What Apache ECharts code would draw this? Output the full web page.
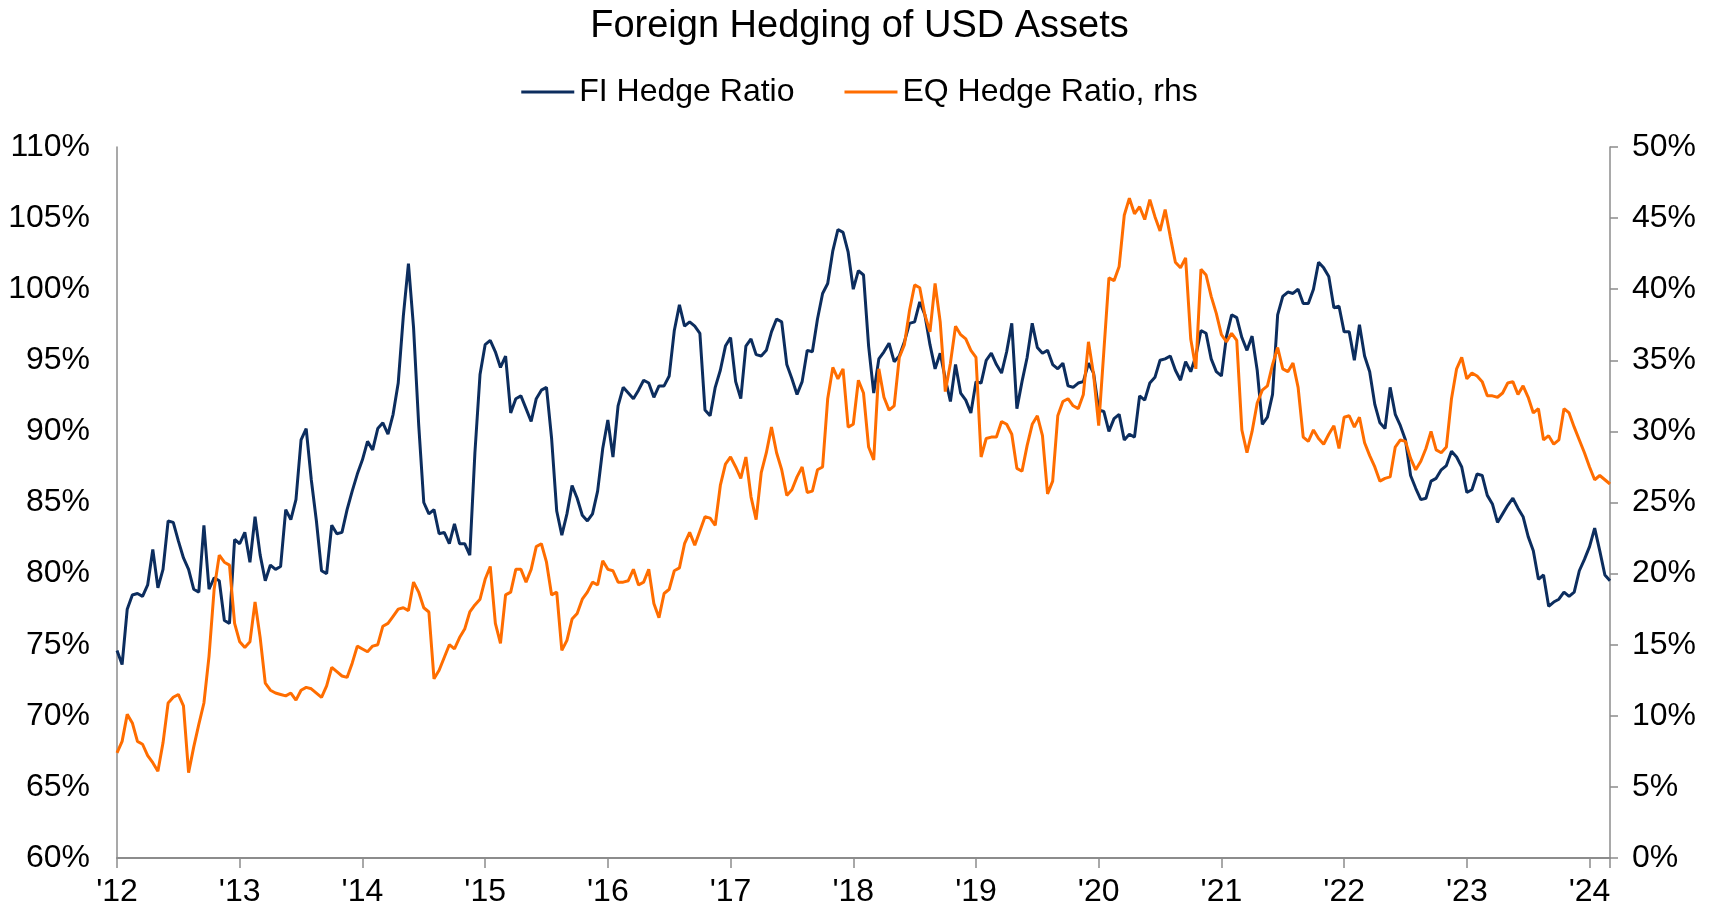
<!DOCTYPE html>
<html>
<head>
<meta charset="utf-8">
<title>Foreign Hedging of USD Assets</title>
<script src="https://cdn.jsdelivr.net/npm/echarts@6/dist/echarts.min.js"></script>
<style>
  html, body { margin: 0; padding: 0; background: #fff; }
  #chart { width: 1719px; height: 913px; }
</style>
</head>
<body>
<div id="chart"></div>
<script>
// semi-monthly readings, starting Jan 2012 (24 per year)
const startYear = 2012
const perYear = 24

// FI hedge ratio, % (left axis)
const fiHedge = [
  74.6, 73.6, 77.5, 78.5, 78.6, 78.4, 79.2, 81.7, 79.0, 80.3, 83.7, 83.6, 82.3, 81.1, 80.3, 78.9, 78.7, 83.4, 78.9, 79.7, 79.5, 76.7, 76.5, 82.4,
  82.1, 82.9, 80.8, 84.0, 81.3, 79.5, 80.6, 80.3, 80.5, 84.5, 83.8, 85.2, 89.4, 90.2, 86.6, 83.7, 80.2, 80.0, 83.4, 82.8, 82.9, 84.5, 85.8, 87.0,
  88.0, 89.3, 88.7, 90.2, 90.6, 89.8, 91.2, 93.4, 98.1, 101.8, 97.3, 90.5, 85.0, 84.2, 84.5, 82.8, 82.9, 82.1, 83.5, 82.1, 82.1, 81.3, 88.5, 94.0,
  96.1, 96.4, 95.6, 94.5, 95.3, 91.3, 92.3, 92.5, 91.6, 90.7, 92.3, 92.9, 93.1, 89.5, 84.4, 82.7, 84.2, 86.2, 85.3, 84.1, 83.7, 84.2, 85.8, 88.8,
  90.8, 88.2, 91.8, 93.1, 92.7, 92.3, 92.9, 93.6, 93.4, 92.4, 93.2, 93.2, 93.9, 97.1, 98.9, 97.4, 97.7, 97.4, 96.9, 91.5, 91.1, 93.1, 94.3, 96.0,
  96.6, 93.5, 92.3, 96.0, 96.5, 95.4, 95.3, 95.7, 97.0, 97.9, 97.7, 94.7, 93.7, 92.6, 93.5, 95.7, 95.6, 97.9, 99.7, 100.4, 102.7, 104.2, 104.0, 102.6,
  100.0, 101.3, 101.0, 96.0, 92.7, 95.1, 95.6, 96.2, 94.9, 95.3, 96.3, 97.6, 97.7, 99.1, 98.2, 96.1, 94.4, 95.5, 93.7, 92.1, 94.7, 92.7, 92.2, 91.3,
  93.5, 93.4, 95.0, 95.5, 94.7, 94.1, 95.6, 97.6, 91.6, 93.5, 95.2, 97.6, 95.9, 95.5, 95.7, 94.7, 94.4, 94.8, 93.2, 93.1, 93.4, 93.5, 94.8, 94.1,
  91.5, 91.4, 90.0, 90.9, 91.2, 89.4, 89.8, 89.6, 92.5, 92.2, 93.4, 93.8, 95.0, 95.1, 95.3, 94.3, 93.6, 94.9, 94.2, 95.3, 97.1, 96.9, 95.1, 94.2,
  93.9, 96.7, 98.2, 98.0, 96.6, 95.7, 96.7, 94.3, 90.5, 91.0, 92.6, 98.2, 99.5, 99.8, 99.7, 100.0, 99.0, 99.0, 100.0, 101.9, 101.5, 100.9, 98.7, 98.8,
  97.0, 97.0, 95.0, 97.5, 95.3, 94.2, 91.9, 90.6, 90.2, 93.1, 91.2, 90.4, 89.4, 86.9, 86.0, 85.2, 85.3, 86.5, 86.7, 87.3, 87.6, 88.6, 88.2, 87.5,
  85.7, 85.9, 87.0, 86.9, 85.5, 84.9, 83.6, 84.2, 84.8, 85.3, 84.6, 84.0, 82.6, 81.6, 79.6, 79.9, 77.7, 78.0, 78.2, 78.7, 78.4, 78.7, 80.2, 81.0,
  81.9, 83.2, 81.6, 79.9, 79.5
]

// EQ hedge ratio, % (right axis)
const eqHedge = [
  7.4, 8.2, 10.1, 9.5, 8.2, 8.0, 7.2, 6.7, 6.1, 8.1, 10.9, 11.3, 11.5, 10.7, 6.0, 7.8, 9.4, 10.9, 14.2, 18.9, 21.3, 20.8, 20.6, 16.5,
  15.2, 14.8, 15.2, 18.0, 15.5, 12.3, 11.8, 11.6, 11.5, 11.4, 11.6, 11.1, 11.8, 12.0, 11.9, 11.6, 11.3, 12.1, 13.4, 13.1, 12.8, 12.7, 13.7, 14.9,
  14.7, 14.5, 14.9, 15.0, 16.3, 16.5, 17.0, 17.5, 17.6, 17.4, 19.4, 18.7, 17.6, 17.3, 12.6, 13.2, 14.1, 15.0, 14.7, 15.5, 16.1, 17.3, 17.8, 18.2,
  19.6, 20.5, 16.5, 15.1, 18.5, 18.7, 20.3, 20.3, 19.4, 20.3, 21.9, 22.1, 20.8, 18.5, 18.7, 14.6, 15.3, 16.8, 17.2, 18.2, 18.7, 19.4, 19.2, 20.9,
  20.3, 20.2, 19.4, 19.4, 19.5, 20.3, 19.2, 19.4, 20.3, 17.9, 16.9, 18.6, 18.9, 20.2, 20.4, 22.1, 22.9, 22.0, 23.0, 24.0, 23.9, 23.4, 26.2, 27.7,
  28.2, 27.5, 26.7, 28.2, 25.4, 23.8, 27.1, 28.5, 30.3, 28.5, 27.3, 25.5, 25.9, 26.8, 27.5, 25.7, 25.8, 27.3, 27.5, 32.3, 34.5, 33.7, 34.4, 30.3,
  30.5, 33.6, 32.7, 28.9, 28.0, 34.4, 32.4, 31.5, 31.8, 35.2, 36.1, 38.5, 40.3, 40.1, 38.2, 37.0, 40.4, 37.7, 32.8, 34.8, 37.4, 36.8, 36.5, 35.7,
  35.2, 28.2, 29.5, 29.6, 29.6, 30.7, 30.5, 29.8, 27.4, 27.2, 29.0, 30.5, 31.1, 29.7, 25.6, 26.5, 31.1, 32.1, 32.3, 31.8, 31.6, 32.6, 36.3, 34.0,
  30.4, 35.6, 40.8, 40.6, 41.6, 45.2, 46.4, 45.3, 45.8, 44.9, 46.3, 45.1, 44.1, 45.6, 43.7, 41.9, 41.5, 42.2, 36.5, 34.4, 41.4, 41.0, 39.5, 38.3,
  36.8, 36.3, 36.9, 36.4, 30.1, 28.5, 30.0, 32.0, 32.9, 33.2, 34.7, 35.9, 34.4, 34.2, 34.8, 33.1, 29.6, 29.3, 30.1, 29.5, 29.1, 29.8, 30.4, 28.8,
  31.0, 31.1, 30.3, 31.0, 29.2, 28.3, 27.5, 26.5, 26.7, 26.8, 28.9, 29.4, 29.3, 28.1, 27.3, 27.9, 28.8, 30.0, 28.7, 28.5, 28.9, 32.3, 34.4, 35.2,
  33.7, 34.1, 33.9, 33.5, 32.5, 32.5, 32.4, 32.7, 33.4, 33.5, 32.6, 33.2, 32.4, 31.3, 31.6, 29.4, 29.7, 29.1, 29.4, 31.6, 31.3, 30.3, 29.4, 28.5,
  27.5, 26.6, 26.9, 26.6, 26.3
]

const leftTicks = { min: 60, max: 110, step: 5 }
const rightTicks = { min: 0, max: 50, step: 5 }

const dates = fiHedge.map((_, i) => startYear + i / perYear)

const axisColor = '#8c8c8c'
const font = 'Liberation Sans, Arial, sans-serif'

const chart = echarts.init(document.getElementById('chart'))

const yAxisBase = {
  type: 'value',
  axisLine: { show: true, lineStyle: { color: axisColor, width: 1.5 } },
  axisTick: { show: true, length: 8, lineStyle: { color: axisColor, width: 1.5 } },
  splitLine: { show: false },
  axisLabel: { color: '#000', fontSize: 32, fontFamily: font, formatter: '{value}%' }
}

const option = {
  animation: false,
  backgroundColor: '#fff',
  title: {
    text: 'Foreign Hedging of USD Assets',
    left: 'center',
    top: 3,
    textStyle: { color: '#000', fontSize: 38, fontWeight: 'normal', fontFamily: font }
  },
  legend: {
    data: ['FI Hedge Ratio', 'EQ Hedge Ratio, rhs'],
    left: 'center',
    top: 71,
    icon: 'rect',
    itemWidth: 53,
    itemHeight: 3,
    itemGap: 50,
    textStyle: { color: '#000', fontSize: 32, fontFamily: font }
  },
  grid: { left: 117, right: 109, top: 147, bottom: 55 },
  xAxis: {
    type: 'value',
    min: startYear,
    max: dates[dates.length - 1],
    interval: 1,
    axisLine: { lineStyle: { color: axisColor, width: 2 } },
    axisTick: { show: true, length: 10, lineStyle: { color: axisColor, width: 1.5 } },
    splitLine: { show: false },
    axisLabel: {
      color: '#000', fontSize: 32, fontFamily: font, margin: 18,
      formatter: v => Number.isInteger(v) ? "'" + String(v).slice(2) : ''
    }
  },
  yAxis: [
    Object.assign({}, yAxisBase, {
      position: 'left', min: leftTicks.min, max: leftTicks.max, interval: leftTicks.step,
      axisTick: { show: false },
      axisLabel: Object.assign({}, yAxisBase.axisLabel, { margin: 27 })
    }),
    Object.assign({}, yAxisBase, {
      position: 'right', min: rightTicks.min, max: rightTicks.max, interval: rightTicks.step,
      axisLabel: Object.assign({}, yAxisBase.axisLabel, { margin: 22 })
    })
  ],
  series: [
    {
      name: 'FI Hedge Ratio',
      type: 'line',
      yAxisIndex: 0,
      data: dates.map((d, i) => [d, fiHedge[i]]),
      showSymbol: false,
      color: '#0c2d5e',
      lineStyle: { width: 3, color: '#0c2d5e' }
    },
    {
      name: 'EQ Hedge Ratio, rhs',
      type: 'line',
      yAxisIndex: 1,
      data: dates.map((d, i) => [d, eqHedge[i]]),
      showSymbol: false,
      color: '#ff6d00',
      lineStyle: { width: 3, color: '#ff6d00' }
    }
  ]
}

chart.setOption(option)
</script>
</body>
</html>
